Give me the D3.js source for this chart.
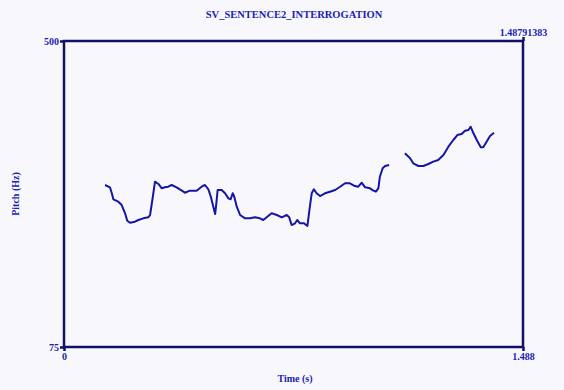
<!DOCTYPE html>
<html><head><meta charset="utf-8">
<script src="https://cdn.jsdelivr.net/npm/d3@7"></script>
<style>
html,body{margin:0;padding:0;background:#f8f8fc;}
svg{display:block;}
text{font-family:"Liberation Serif","Times New Roman",serif;font-weight:bold;fill:#1c1cb4;}
</style></head>
<body>
<script>
const title = "SV_SENTENCE2_INTERROGATION";
const xDomain = [0, 1.48791383];
const yDomain = [75, 500];
const xTickLabels = ["0", "1.488"];
const yTickLabels = ["75", "500"];
const topRightLabel = "1.48791383";
const xLabel = "Time (s)";
const yLabel = "Pitch (Hz)";

const seg1Time = [0.133,0.149,0.155,0.160,0.176,0.187,0.198,0.205,0.214,0.230,0.241,0.257,0.273,0.279,0.288,0.295,0.306,0.317,0.327,0.338,0.349,0.365,0.382,0.392,0.408,0.430,0.446,0.457,0.468,0.476,0.484,0.490,0.495,0.498,0.511,0.522,0.533,0.540,0.547,0.552,0.560,0.571,0.587,0.603,0.619,0.635,0.646,0.657,0.673,0.690,0.706,0.722,0.730,0.738,0.749,0.756,0.765,0.778,0.789,0.797,0.803,0.810,0.819,0.830,0.846,0.862,0.879,0.895,0.911,0.927,0.943,0.954,0.965,0.976,0.992,1.003,1.011,1.019,1.024,1.033,1.041,1.054];
const seg1Pitch = [300.0,296.8,288.5,280.1,276.8,272.2,260.7,250.4,247.6,249.0,251.4,253.7,255.1,258.3,283.7,304.6,301.4,295.4,296.8,297.6,300.0,296.8,292.1,289.3,292.1,292.1,297.6,300.0,294.0,283.7,269.9,259.7,279.2,293.1,293.1,288.5,281.5,280.1,288.5,283.7,269.9,258.3,253.7,253.7,255.1,253.7,251.4,255.1,260.7,258.3,255.1,258.3,255.1,244.4,246.8,251.4,246.8,246.8,243.1,269.9,288.5,294.0,288.5,284.7,288.5,290.7,293.1,297.6,302.4,302.4,298.6,297.6,303.2,296.8,295.4,292.1,290.7,295.4,311.5,323.2,326.4,327.8];
const seg2Time = [1.105,1.122,1.132,1.149,1.165,1.181,1.197,1.213,1.230,1.246,1.262,1.275,1.289,1.300,1.311,1.318,1.325,1.338,1.351,1.359,1.368,1.381,1.394];
const seg2Pitch = [344.0,337.1,330.1,326.4,326.4,329.2,332.4,334.7,341.7,353.2,362.5,369.4,370.8,375.4,376.4,381.0,374.0,362.5,352.4,352.4,358.8,368.1,372.6];

const W = 564, H = 390;
const svg = d3.select("body").append("svg").attr("width", W).attr("height", H);
svg.append("rect").attr("width", W).attr("height", H).attr("fill", "#f8f8fc");

const x = d3.scaleLinear().domain(xDomain).range([64, 523]);
const y = d3.scaleLinear().domain(yDomain).range([347, 41]);

const line = d3.line().x(d => x(d[0])).y(d => y(d[1]));
[[seg1Time, seg1Pitch], [seg2Time, seg2Pitch]].forEach(([t, p]) => {
  svg.append("path")
    .datum(t.map((v, i) => [v, p[i]]))
    .attr("d", line)
    .attr("fill", "none")
    .attr("stroke", "#1515a8")
    .attr("stroke-width", 2)
    .attr("stroke-linejoin", "round");
});

// frame
svg.append("rect")
  .attr("x", x(xDomain[0])).attr("y", y(yDomain[1]))
  .attr("width", x(xDomain[1]) - x(xDomain[0]))
  .attr("height", y(yDomain[0]) - y(yDomain[1]))
  .attr("fill", "none").attr("stroke", "#10106a").attr("stroke-width", 2.5);

// axes with ticks
const yAxis = d3.axisLeft(y).tickValues(yDomain).tickSize(4).tickPadding(1)
  .tickFormat((d, i) => yTickLabels[i]);
const gy = svg.append("g").attr("transform", `translate(${x(0)},0)`).call(yAxis);
const xAxis = d3.axisBottom(x).tickValues(xDomain).tickSize(4).tickPadding(2)
  .tickFormat((d, i) => xTickLabels[i]);
const gx = svg.append("g").attr("transform", `translate(0,${y(75)})`).call(xAxis);
const xTop = d3.axisTop(x).tickValues([xDomain[1]]).tickSize(4).tickPadding(1)
  .tickFormat(() => topRightLabel);
const gt = svg.append("g").attr("transform", `translate(0,${y(500)})`).call(xTop);
[gy, gx, gt].forEach(g => {
  g.select(".domain").remove();
  g.selectAll(".tick line").attr("stroke", "#10106a").attr("stroke-width", 2.5);
  g.selectAll(".tick text").attr("font-size", 10)
    .attr("font-family", "Liberation Serif").attr("fill", "#1c1cb4");
});

svg.append("text").attr("x", 294).attr("y", 18).attr("text-anchor", "middle")
  .attr("font-size", 10.5).text(title);
svg.append("text").attr("x", 295).attr("y", 382).attr("text-anchor", "middle")
  .attr("font-size", 10).text(xLabel);
svg.append("text").attr("transform", "translate(19,194) rotate(-90)")
  .attr("text-anchor", "middle").attr("font-size", 10).text(yLabel);
</script>
</body></html>
